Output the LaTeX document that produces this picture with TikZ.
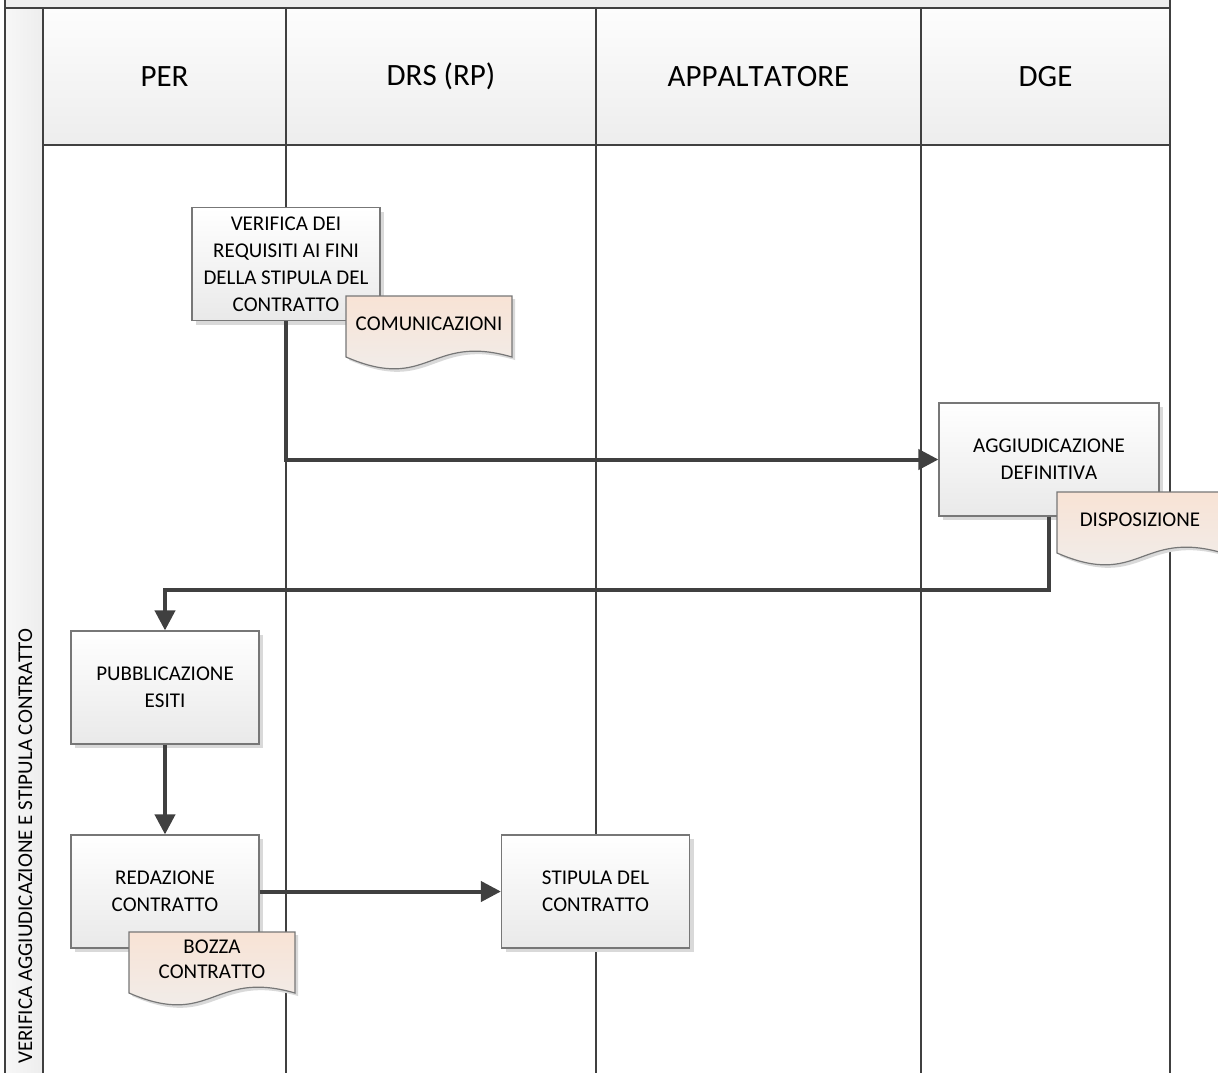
\documentclass[tikz,border=0pt]{standalone}
\usepackage{fontspec}
\setmainfont{Carlito}[Kerning=Off]
\usetikzlibrary{arrows.meta,shadows}
\definecolor{lanecol}{HTML}{404040}
\definecolor{conncol}{HTML}{404040}
\definecolor{boxborder}{HTML}{777777}
\definecolor{boxbottom}{HTML}{E9E9E9}
\definecolor{headtop}{HTML}{FDFDFD}
\definecolor{headbot}{HTML}{EDEDED}
\definecolor{doctop}{HTML}{F8E3D5}
\definecolor{docbot}{HTML}{EFEFEF}
\definecolor{shadowcol}{HTML}{D9D9D9}
\newcommand{\docsh}[4]{%
  \fill[shadowcol] (#1+3,#2+3) -- (#1+#3+3,#2+3) -- (#1+#3+3,#2+#4+3) .. controls (#1+0.5*#3+3,#2+#4-21) and (#1+0.5*#3+3,#2+#4+39) .. (#1+3,#2+#4+3) -- cycle;
  \path[docbody] (#1,#2) -- (#1+#3,#2) -- (#1+#3,#2+#4) .. controls (#1+0.5*#3,#2+#4-24) and (#1+0.5*#3,#2+#4+36) .. (#1,#2+#4) -- cycle;
}
\begin{document}
\begin{tikzpicture}[x=1pt,y=-1pt,
  lane/.style={draw=lanecol,line width=2pt},
  header/.style={draw=lanecol,line width=2pt,top color=headtop,bottom color=headbot,minimum height=137pt,inner sep=0pt,font=\fontsize{31}{36}\selectfont},
  proc/.style={draw=boxborder,line width=1.2pt,top color=white,bottom color=boxbottom,minimum width=188pt,minimum height=113pt,align=center,inner sep=3pt,font=\fontsize{21}{27}\selectfont,drop shadow={shadow xshift=4pt,shadow yshift=-4pt,fill=shadowcol,opacity=1}},
  docbody/.style={draw=boxborder,line width=1.2pt,top color=doctop,bottom color=docbot},
  doctext/.style={align=center,inner sep=0pt,font=\fontsize{21}{25}\selectfont},
  conn/.style={draw=conncol,line width=4pt},
  arr/.style={conn,-{Triangle[length=20pt,width=20pt]}}
]
\useasboundingbox (0,0) rectangle (1218,1072);
% pool frame and headers
\fill[headbot] (5,0) rectangle (1170,8);
\shade[left color=white!97!black,right color=headbot] (5,8) rectangle (43,1080);
\node[header,minimum width=243pt] (hper) at (164.5,76.5) {PER};
\node[header,minimum width=310pt] (hdrs) at (441,76.5) {DRS (RP)};
\node[header,minimum width=325pt] (happ) at (758.5,76.5) {APPALTATORE};
\node[header,minimum width=249pt] (hdge) at (1045.5,76.5) {DGE};
\draw[lane] (5,8) -- (1170,8);
\draw[lane] (5,0) -- (5,1080);
\draw[lane] (43,8) -- (43,1080);
\draw[lane] (286,145) -- (286,1080);
\draw[lane] (596,145) -- (596,1080);
\draw[lane] (921,145) -- (921,1080);
\draw[lane] (1170,0) -- (1170,1080);
\node[rotate=90,anchor=east,inner sep=0pt,font=\fontsize{21}{25}\selectfont] (pool) at (25.5,628) {VERIFICA AGGIUDICAZIONE E STIPULA CONTRATTO};
% process boxes
\node[proc] (verif) at (286,264) {VERIFICA DEI\\REQUISITI AI FINI\\DELLA STIPULA DEL\\CONTRATTO};
\node[proc,minimum width=220pt] (aggiud) at (1049,459.5) {AGGIUDICAZIONE\\DEFINITIVA};
\node[proc] (pubbl) at (165,687.5) {PUBBLICAZIONE\\ESITI};
\node[proc] (redaz) at (165,891.5) {REDAZIONE\\CONTRATTO};
\node[proc] (stip) at (595.5,891.5) {STIPULA DEL\\CONTRATTO};
% connectors
\coordinate (bend) at (600,590);
\draw[arr] (verif.south) |- (aggiud.west);
\draw[arr] (aggiud.south) |- (bend) -| (pubbl.north);
\draw[arr] (pubbl.south) -- (redaz.north);
\draw[arr] (redaz.east) -- (stip.west);
% documents
\docsh{346}{296}{166}{61}
\node[doctext] (comun) at (429,323.5) {COMUNICAZIONI};
\docsh{1057}{492}{166}{61}
\node[doctext] (dispo) at (1140,519.5) {DISPOSIZIONE};
\docsh{129}{932}{166}{61}
\node[doctext] (bozza) at (212,959) {BOZZA\\CONTRATTO};
\end{tikzpicture}
\end{document}
